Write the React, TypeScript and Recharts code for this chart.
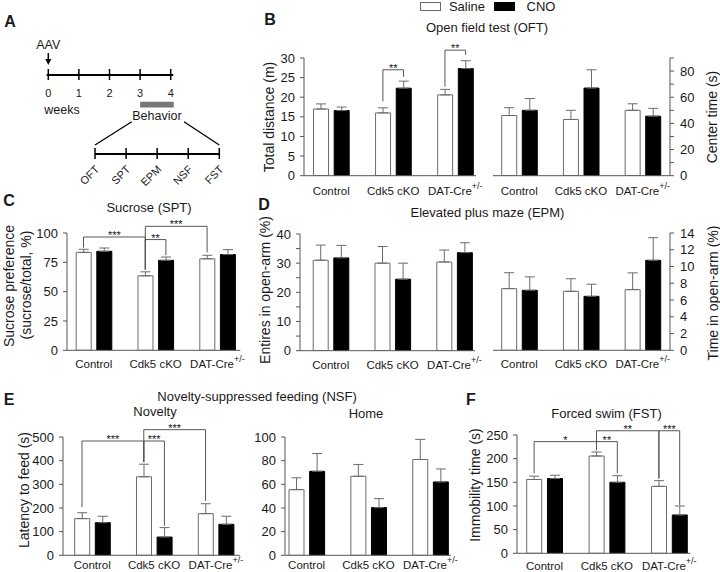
import React from 'react';
import {
  BarChart, Bar, Cell, XAxis, YAxis, ErrorBar, ReferenceLine, ReferenceArea, ReferenceDot, LineChart, Line,
} from 'recharts';

const FONT = '"Liberation Sans", Arial, Helvetica, sans-serif';
const INK = '#1a1a1a';
const AXIS = '#555';
const GREY = '#6b6b6b';

// categories
const groups = ['Control', 'Cdk5 cKO', 'DAT-Cre'];
const weeks = [0, 1, 2, 3, 4];
const stages = ['OFT', 'SPT', 'EPM', 'NSF', 'FST'];

// B: open field
const oftDistSaline = [17.0, 16.0, 20.6];
const oftDistSalineErr = [1.3, 1.3, 1.4];
const oftDistCno = [16.6, 22.3, 27.3];
const oftDistCnoErr = [0.9, 1.8, 2.0];
const oftCenterSaline = [46, 43, 50];
const oftCenterSalineErr = [6, 7, 5];
const oftCenterCno = [50, 67, 45.5];
const oftCenterCnoErr = [9, 14, 6];

// C: sucrose preference
const sptSaline = [83.5, 63.5, 78];
const sptSalineErr = [2.6, 3.4, 3];
const sptCno = [84.4, 76.7, 81.6];
const sptCnoErr = [2.8, 2.8, 4.2];

// D: elevated plus maze
const epmEntrySaline = [31, 30, 30.4];
const epmEntrySalineErr = [5.2, 5.7, 4.1];
const epmEntryCno = [31.8, 24.5, 33.6];
const epmEntryCnoErr = [4.3, 5.5, 3.4];
const epmTimeSaline = [7.36, 7.04, 7.24];
const epmTimeSalineErr = [1.9, 1.5, 2.0];
const epmTimeCno = [7.16, 6.44, 10.74];
const epmTimeCnoErr = [1.6, 1.45, 2.7];

// E: novelty-suppressed feeding
const nsfNoveltySaline = [155, 332, 176];
const nsfNoveltySalineErr = [25, 53, 42];
const nsfNoveltyCno = [138, 77, 131];
const nsfNoveltyCnoErr = [27, 40, 34];
const nsfHomeSaline = [55.5, 66.8, 81];
const nsfHomeSalineErr = [10, 10, 17];
const nsfHomeCno = [71, 40.3, 62];
const nsfHomeCnoErr = [15, 7.6, 11];

// F: forced swim
const fstSaline = [156, 205.6, 141.5];
const fstSalineErr = [7, 8.4, 12];
const fstCno = [158, 150, 81];
const fstCnoErr = [7, 14, 19];

type Row = { slot: string; kind: 'saline' | 'cno' | 'gap'; value: number | null; err: number[] | null };
type Bracket = { from: string; to: string; fromY: number; toY: number; top: number; label: string };

const S = (g: string) => g + '|S';
const C = (g: string) => g + '|C';

// one slot per bar, an empty slot between groups
const buildRows = (sal: number[], salErr: number[], cno: number[], cnoErr: number[]): Row[] => {
  const rows: Row[] = [];
  groups.forEach((g, i) => {
    rows.push({ slot: S(g), kind: 'saline', value: sal[i], err: [0, salErr[i]] });
    rows.push({ slot: C(g), kind: 'cno', value: cno[i], err: [0, cnoErr[i]] });
    if (i < groups.length - 1) rows.push({ slot: 'gap' + i, kind: 'gap', value: null, err: null });
  });
  return rows;
};

const oftBrackets: Bracket[] = [
  { from: S('Cdk5 cKO'), to: C('Cdk5 cKO'), fromY: 18.9, toY: 25.2, top: 27, label: '**' },
  { from: S('DAT-Cre'), to: C('DAT-Cre'), fromY: 22.7, toY: 30.8, top: 32, label: '**' },
];
const sptBrackets: Bracket[] = [
  { from: S('Control'), to: S('Cdk5 cKO'), fromY: 87.5, toY: 68.8, top: 96.6, label: '***' },
  { from: S('Cdk5 cKO'), to: C('Cdk5 cKO'), fromY: 68.8, toY: 81, top: 94.4, label: '**' },
  { from: S('Cdk5 cKO'), to: S('DAT-Cre'), fromY: 68.8, toY: 83.5, top: 105.7, label: '***' },
];
const nsfBrackets: Bracket[] = [
  { from: S('Control'), to: S('Cdk5 cKO'), fromY: 204, toY: 394, top: 483, label: '***' },
  { from: S('Cdk5 cKO'), to: C('Cdk5 cKO'), fromY: 394, toY: 125, top: 483, label: '***' },
  { from: S('Cdk5 cKO'), to: S('DAT-Cre'), fromY: 394, toY: 230, top: 531, label: '***' },
];
const fstBrackets: Bracket[] = [
  { from: S('Control'), to: S('Cdk5 cKO'), fromY: 169, toY: 218, top: 236, label: '*' },
  { from: S('Cdk5 cKO'), to: C('Cdk5 cKO'), fromY: 218, toY: 169, top: 236, label: '**' },
  { from: S('Cdk5 cKO'), to: S('DAT-Cre'), fromY: 218, toY: 158, top: 259, label: '**' },
  { from: S('DAT-Cre'), to: C('DAT-Cre'), fromY: 158, toY: 102, top: 259, label: '***' },
];

const GroupTick = (props: any) => {
  const { x, y, payload, band, dy } = props;
  const [g, k] = String(payload.value).split('|');
  if (k !== 'S') return <g />;
  return (
    <text x={x + band / 2} y={y + dy + 4} textAnchor="middle" fontSize={11.5} fill={INK} fontFamily={FONT}>
      {g}
      {g === 'DAT-Cre' && <tspan dy={-6} fontSize={9}>+/-</tspan>}
    </text>
  );
};

const YW = 44, MT = 24, XH = 24, SIDE = 4, EDGE = 16;

type PanelProps = {
  x0: number; x1: number; yTop: number; yBottom: number;
  side: 'left' | 'right';
  domain: [number, number];
  ticks: number[];
  labelEvery?: number;
  padL: number; padR: number;
  labelDy: number;
  rows: Row[];
  brackets?: Bracket[];
};

const BarPanel = (p: PanelProps) => {
  const plotW = p.x1 - p.x0;
  const plotH = p.yBottom - p.yTop;
  const band = (plotW - p.padL - p.padR) / p.rows.length;
  const leftW = p.side === 'left' ? YW : 0;
  const rightW = p.side === 'right' ? YW : 0;
  const rightM = p.side === 'left' ? EDGE : SIDE;
  const width = SIDE + leftW + plotW + rightW + rightM;
  const height = MT + plotH + XH;
  return (
    <div style={{ position: 'absolute', left: p.x0 - leftW - SIDE, top: p.yTop - MT }}>
      <BarChart width={width} height={height} data={p.rows} margin={{ top: MT, right: rightM, bottom: 0, left: SIDE }}>
        <XAxis
          dataKey="slot" type="category" interval={0} tickLine={false} tickSize={0} tickMargin={0}
          axisLine={{ stroke: AXIS }} padding={{ left: p.padL, right: p.padR }} height={XH}
          tick={(t: any) => <GroupTick {...t} band={band} dy={p.labelDy} />}
        />
        <YAxis
          orientation={p.side} width={YW} domain={p.domain} ticks={p.ticks} allowDataOverflow interval={0}
          tickSize={4} tickMargin={p.side === 'left' ? 5 : 6} axisLine={{ stroke: AXIS }} tickLine={{ stroke: AXIS }}
          tick={{ fontSize: 13, fill: INK, fontFamily: FONT }}
          tickFormatter={(v: number) => (p.labelEvery && v % p.labelEvery !== 0 ? '' : String(v))}
        />
        <Bar dataKey="value" barSize={15} isAnimationActive={false}>
          {p.rows.map((r) => (
            <Cell key={r.slot} fill={r.kind === 'cno' ? '#000' : '#fff'} stroke={r.kind === 'cno' ? '#000' : GREY} strokeWidth={1} />
          ))}
          <ErrorBar dataKey="err" width={5} stroke={GREY} strokeWidth={1} direction="y" />
        </Bar>
        {(p.brackets || []).map((b, i) => [
          <ReferenceLine key={'a' + i} ifOverflow="visible" stroke={AXIS} segment={[{ x: b.from, y: b.fromY }, { x: b.from, y: b.top }]} />,
          <ReferenceLine
            key={'b' + i} ifOverflow="visible" stroke={AXIS}
            segment={[{ x: b.from, y: b.top }, { x: b.to, y: b.top }]}
            label={{ value: b.label, position: 'top', offset: -2, fontSize: 11, fill: INK, fontFamily: FONT }}
          />,
          <ReferenceLine key={'c' + i} ifOverflow="visible" stroke={AXIS} segment={[{ x: b.to, y: b.top }, { x: b.to, y: b.toY }]} />,
        ])}
      </BarChart>
    </div>
  );
};

const Txt = ({ x, y, size = 13, bold = false, rotate = false, children }: any) => (
  <div
    style={{
      position: 'absolute', left: x, top: y, whiteSpace: 'nowrap', fontSize: size, fontFamily: FONT, color: INK,
      fontWeight: bold ? 'bold' : 'normal', lineHeight: 1,
      transform: `translate(-50%, -50%)${rotate ? ' rotate(-90deg)' : ''}`,
    }}
  >
    {children}
  </div>
);

const WeekTick = ({ x, y, payload }: any) => (
  <g>
    <line x1={x} x2={x} y1={y - 6} y2={y + 5} stroke="#000" strokeWidth={1.5} />
    <text x={x} y={y + 18} textAnchor="middle" dominantBaseline="central" fontSize={11} fill={INK} fontFamily={FONT}>
      {payload.value}
    </text>
  </g>
);

const StageTick = ({ x, y, payload }: any) => (
  <g>
    <line x1={x} x2={x} y1={y - 6} y2={y + 5} stroke="#000" strokeWidth={1.5} />
    <text transform={`translate(${x + 5},${y + 16}) rotate(-45)`} textAnchor="end" fontSize={11} fill={INK} fontFamily={FONT}>
      {payload.value}
    </text>
  </g>
);

const Timeline = () => (
  <>
    <div style={{ position: 'absolute', left: 20, top: 35 }}>
      <LineChart width={180} height={90} data={weeks.map((w) => ({ week: w, v: 0 }))} margin={{ top: 0, right: 26.7, bottom: 0, left: 26.7 }}>
        <XAxis
          dataKey="week" type="number" domain={[0, 4]} ticks={weeks} height={50} interval={0}
          axisLine={{ stroke: '#000', strokeWidth: 2 }} tickLine={false} tickSize={0} tickMargin={0}
          padding={{ left: 1.6, right: 2.6 }} tick={<WeekTick />}
        />
        <YAxis hide domain={[0, 1]} />
        <Line dataKey="v" stroke="none" dot={false} isAnimationActive={false} />
        <ReferenceLine
          ifOverflow="visible" stroke="#000" strokeWidth={1.5}
          segment={[{ x: 0, y: 0.55 }, { x: 0, y: 0.3 }]}
          label={{ value: 'AAV', position: 'top', offset: 4, fontSize: 12.5, fill: INK, fontFamily: FONT }}
        />
        <ReferenceDot
          x={0} y={0.25} ifOverflow="visible"
          shape={(s: any) => <path d={`M${s.cx - 3},${s.cy - 6} L${s.cx + 3},${s.cy - 6} L${s.cx},${s.cy} Z`} fill="#000" />}
        />
        <ReferenceArea
          x1={3} x2={4.1} y1={-0.81} y2={-0.67} ifOverflow="visible" fill="#777" fillOpacity={1} stroke="none"
          label={{ value: 'Behavior', position: 'bottom', offset: 4, fontSize: 12.5, fill: INK, fontFamily: FONT }}
        />
      </LineChart>
    </div>
    <div style={{ position: 'absolute', left: 60, top: 130 }}>
      <LineChart width={200} height={70} data={stages.map((s) => ({ stage: s, v: 0 }))} margin={{ top: 0, right: 40.7, bottom: 0, left: 35 }}>
        <XAxis
          dataKey="stage" type="category" height={46} interval={0}
          axisLine={{ stroke: '#000', strokeWidth: 2 }} tickLine={false} tickSize={0} tickMargin={0}
          tick={<StageTick />}
        />
        <YAxis hide domain={[0, 1]} />
        <Line dataKey="v" stroke="none" dot={false} isAnimationActive={false} />
      </LineChart>
    </div>
    <svg style={{ position: 'absolute', left: 0, top: 0 }} width={240} height={160}>
      <line x1={131.7} y1={121.7} x2={95} y2={145} stroke="#000" strokeWidth={1.3} />
      <line x1={184} y1={121.7} x2={219.3} y2={145} stroke="#000" strokeWidth={1.3} />
    </svg>
  </>
);

const Legend = () => (
  <>
    <div style={{ position: 'absolute', left: 420, top: 2, width: 19, height: 7, border: `1px solid ${GREY}`, background: '#fff' }} />
    <Txt x={467} y={6}>Saline</Txt>
    <div style={{ position: 'absolute', left: 494, top: 2, width: 21, height: 9, background: '#000' }} />
    <Txt x={541} y={6}>CNO</Txt>
  </>
);

const App = () => (
  <div style={{ position: 'absolute', left: 0, top: 0, width: 720, height: 572, background: '#fff', overflow: 'hidden' }}>
    <Timeline />
    <Legend />

    <Txt x={10} y={22} size={16} bold>A</Txt>
    <Txt x={270} y={20} size={16} bold>B</Txt>
    <Txt x={9} y={201} size={16} bold>C</Txt>
    <Txt x={264} y={205} size={16} bold>D</Txt>
    <Txt x={9} y={400} size={16} bold>E</Txt>
    <Txt x={471} y={400} size={16} bold>F</Txt>
    <Txt x={62} y={110} size={12.5}>weeks</Txt>

    <Txt x={487} y={27}>Open field test (OFT)</Txt>
    <Txt x={149} y={207}>Sucrose (SPT)</Txt>
    <Txt x={487.5} y={212}>Elevated plus maze (EPM)</Txt>
    <Txt x={257} y={396}>Novelty-suppressed feeding (NSF)</Txt>
    <Txt x={155} y={411}>Novelty</Txt>
    <Txt x={366} y={413}>Home</Txt>
    <Txt x={606.5} y={412.5}>Forced swim (FST)</Txt>

    <Txt x={268.5} y={117} size={14} rotate>Total distance (m)</Txt>
    <Txt x={712} y={117} size={14} rotate>Center time (s)</Txt>
    <Txt x={8.5} y={286} size={14} rotate>Sucrose preference</Txt>
    <Txt x={26} y={285} size={14} rotate>(sucrose/total, %)</Txt>
    <Txt x={265} y={289.5} size={14} rotate>Entires in open-arm (%)</Txt>
    <Txt x={712.5} y={293} size={14} rotate>Time in open-arm (%)</Txt>
    <Txt x={24} y={490} size={14} rotate>Latency to feed (s)</Txt>
    <Txt x={475} y={485} size={14} rotate>Immobility time (s)</Txt>

    <BarPanel
      x0={303.5} x1={475.5} yTop={58.3} yBottom={176} side="left" domain={[0, 30]} ticks={[0, 5, 10, 15, 20, 25, 30]}
      padL={6.5} padR={0} labelDy={15} rows={buildRows(oftDistSaline, oftDistSalineErr, oftDistCno, oftDistCnoErr)} brackets={oftBrackets}
    />
    <BarPanel
      x0={493} x1={670} yTop={58.3} yBottom={176} side="right" domain={[0, 90]} ticks={[0, 10, 20, 30, 40, 50, 60, 70, 80, 90]} labelEvery={20}
      padL={5.7} padR={6.7} labelDy={15} rows={buildRows(oftCenterSaline, oftCenterSalineErr, oftCenterCno, oftCenterCnoErr)}
    />
    <BarPanel
      x0={66.7} x1={240} yTop={232.7} yBottom={350} side="left" domain={[0, 100]} ticks={[0, 25, 50, 75, 100]}
      padL={6.2} padR={2.3} labelDy={14} rows={buildRows(sptSaline, sptSalineErr, sptCno, sptCnoErr)} brackets={sptBrackets}
    />
    <BarPanel
      x0={300} x1={475} yTop={234} yBottom={350.7} side="left" domain={[0, 40]} ticks={[0, 5, 10, 15, 20, 25, 30, 35, 40]} labelEvery={10}
      padL={10.2} padR={0} labelDy={14} rows={buildRows(epmEntrySaline, epmEntrySalineErr, epmEntryCno, epmEntryCnoErr)}
    />
    <BarPanel
      x0={493} x1={670} yTop={232.7} yBottom={350} side="right" domain={[0, 14]} ticks={[0, 2, 4, 6, 8, 10, 12, 14]}
      padL={5.7} padR={6.7} labelDy={14} rows={buildRows(epmTimeSaline, epmTimeSalineErr, epmTimeCno, epmTimeCnoErr)}
    />
    <BarPanel
      x0={63.3} x1={240} yTop={436.7} yBottom={555} side="left" domain={[0, 500]} ticks={[0, 100, 200, 300, 400, 500]}
      padL={8.7} padR={3.2} labelDy={10} rows={buildRows(nsfNoveltySaline, nsfNoveltySalineErr, nsfNoveltyCno, nsfNoveltyCnoErr)} brackets={nsfBrackets}
    />
    <BarPanel
      x0={285} x1={451} yTop={436.7} yBottom={555} side="left" domain={[0, 100]} ticks={[0, 20, 40, 60, 80, 100]}
      padL={1} padR={0} labelDy={10} rows={buildRows(nsfHomeSaline, nsfHomeSalineErr, nsfHomeCno, nsfHomeCnoErr)}
    />
    <BarPanel
      x0={516.7} x1={690} yTop={435} yBottom={553.3} side="left" domain={[0, 250]} ticks={[0, 50, 100, 150, 200, 250]}
      padL={6.7} padR={0.2} labelDy={12.7} rows={buildRows(fstSaline, fstSalineErr, fstCno, fstCnoErr)} brackets={fstBrackets}
    />
  </div>
);

export default App;
